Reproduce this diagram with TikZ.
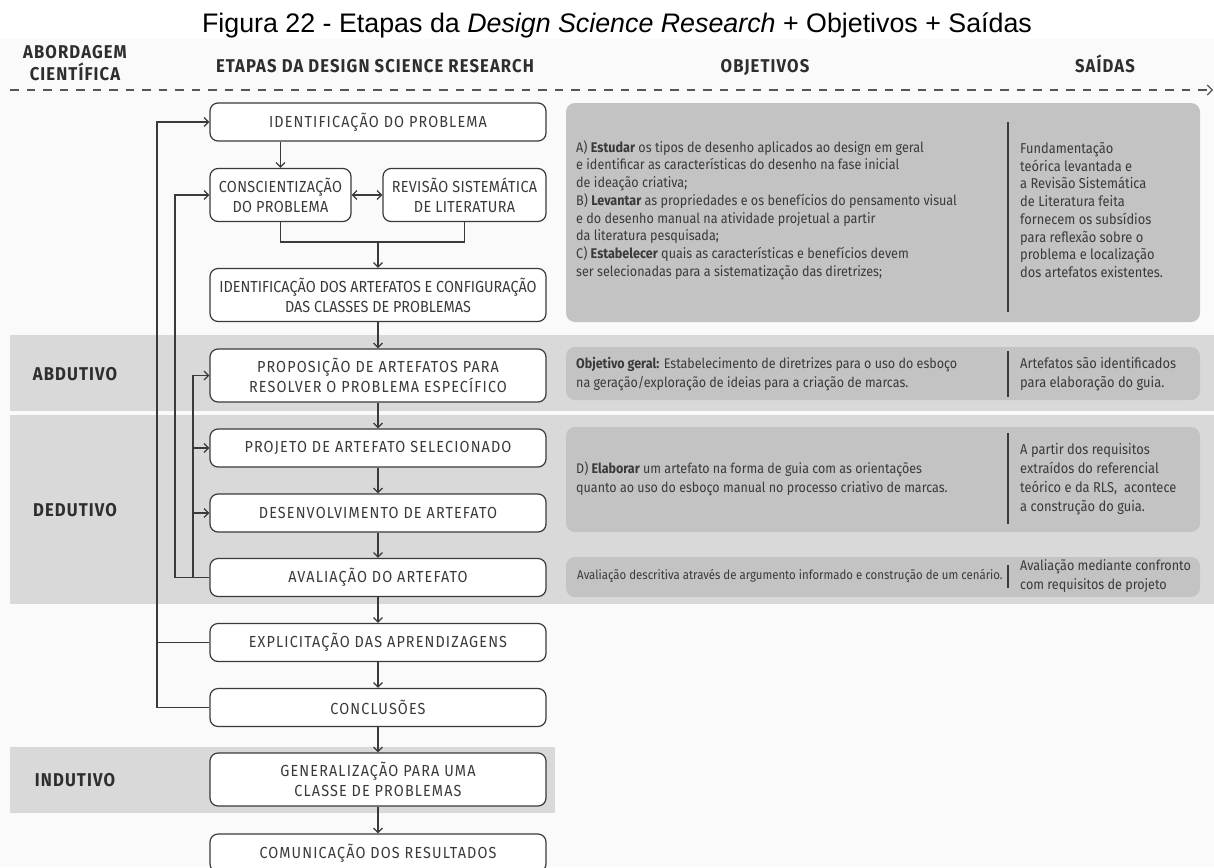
\documentclass[tikz,border=0pt]{standalone}
\usepackage{fontspec}
\setmainfont{Fira Sans}[FakeStretch=0.9]
\newfontfamily\spacedfont{Fira Sans}[FakeStretch=0.9, LetterSpace=7]
\newfontfamily\lightspaced{Fira Sans}[FakeStretch=0.9, LetterSpace=2]
\newfontfamily\headfont{Fira Sans}[FakeStretch=0.9, LetterSpace=6]
\newfontfamily\titlefont{Liberation Sans}
\usetikzlibrary{arrows.meta,calc}
\definecolor{ink}{HTML}{3A3A3A}
\definecolor{headink}{HTML}{2E2E2E}
\definecolor{band}{HTML}{D9D9D9}
\definecolor{panel}{HTML}{C3C3C3}
\definecolor{paper}{HTML}{FAFAFA}
\definecolor{axis}{HTML}{555555}
\begin{document}
\begin{tikzpicture}[x=1pt,y=-1pt,
  flow/.style={draw=ink, line width=1.2pt, rounded corners=8pt, fill=white,
    text=ink, align=center, inner sep=0pt, minimum width=336pt,
    font=\spacedfont\fontsize{16}{20}\selectfont},
  single/.style={flow, minimum height=38pt},
  double/.style={flow, minimum height=53pt},
  panelbox/.style={fill=panel, rounded corners=9pt, minimum width=634pt, inner sep=0pt},
  bandbox/.style={fill=band, inner sep=0pt, anchor=north west},
  head/.style={text=headink, font=\headfont\fontsize{18.5}{20}\bfseries\selectfont, inner sep=0pt, anchor=base},
  phase/.style={text=headink, font=\headfont\fontsize{18.5}{20}\bfseries\selectfont, inner sep=0pt},
  objtext/.style={text=ink, align=left, anchor=west, inner sep=0pt},
  conn/.style={draw=ink, line width=1.2pt},
  arr/.style={conn, -{Straight Barb[length=4.5pt,width=9pt]}},
  divider/.style={draw=ink, line width=1.4pt},
]
\clip (0,0) rectangle (1214,867);
\useasboundingbox (0,0) rectangle (1214,867);
\fill[paper] (0,39) rectangle (1214,867);

% title
\node[anchor=base, inner sep=0pt, font=\titlefont\fontsize{26.8}{30}\selectfont] (title) at (617,33)
  {Figura 22 - Etapas da \textit{Design Science Research} + Objetivos + Saídas};

% column headings
\node[head] (hA1) at (75,59) {ABORDAGEM};
\node[head] (hA2) at (75,80) {CIENTÍFICA};
\node[head] (hB) at (375,72) {ETAPAS DA DESIGN SCIENCE RESEARCH};
\node[head] (hC) at (765,72) {OBJETIVOS};
\node[head] (hD) at (1105,72) {SAÍDAS};

% time axis
\coordinate (axisL) at (10,90);
\coordinate (axisR) at (1213,90);
\draw[draw=axis, line width=1.1pt, dash pattern=on 8.5pt off 8pt,
  -{Straight Barb[length=5pt,width=10pt]}] (axisL) -- (axisR);

% bands of the scientific approaches
\node[bandbox, minimum width=1204pt, minimum height=76pt] (bandAb) at (10,335) {};
\node[bandbox, minimum width=1204pt, minimum height=189pt] (bandDe) at (10,415) {};
\node[bandbox, minimum width=545pt, minimum height=66pt] (bandIn) at (10,747) {};
\node[phase] (ab) at (75,374) {ABDUTIVO};
\node[phase] (de) at (75,510) {DEDUTIVO};
\node[phase] (in) at (75,780) {INDUTIVO};

% panels with objectives and outputs
\node[panelbox, minimum height=219pt] (P1) at (883,212.5) {};
\node[panelbox, minimum height=53pt] (P2) at (883,373.5) {};
\node[panelbox, minimum height=105pt] (P3) at (883,479.5) {};
\node[panelbox, minimum height=40pt] (P4) at (883,577) {};
\draw[divider] (1008,122) -- (1008,312);
\draw[divider] (1008,351) -- (1008,397);
\draw[divider] (1008,433) -- (1008,524);
\draw[divider] (1008,565) -- (1008,588);

\node[objtext, font=\fontsize{14}{17.7}\selectfont] (t1) at (576,210) {%
A) \textbf{Estudar} os tipos de desenho aplicados ao design em geral\\
e identificar as características do desenho na fase inicial\\
de ideação criativa;\\
B) \textbf{Levantar} as propriedades e os benefícios do pensamento visual\\
e do desenho manual na atividade projetual a partir\\
da literatura pesquisada;\\
C) \textbf{Estabelecer} quais as características e benefícios devem\\
ser selecionadas para a sistematização das diretrizes;};
\node[objtext, font=\fontsize{14.3}{17.7}\selectfont] (s1) at (1020,210) {%
Fundamentação\\
teórica levantada e\\
a Revisão Sistemática\\
de Literatura feita\\
fornecem os subsídios\\
para reflexão sobre o\\
problema e localização\\
dos artefatos existentes.};

\node[objtext, font=\fontsize{13.9}{19}\selectfont] (t2) at (576,374.5) {%
\textbf{Objetivo geral:} Estabelecimento de diretrizes para o uso do esboço\\
na geração/exploração de ideias para a criação de marcas.};
\node[objtext, font=\fontsize{14.3}{19}\selectfont] (s2) at (1020,374.5) {%
Artefatos são identificados\\
para elaboração do guia.};

\node[objtext, font=\fontsize{13.9}{19}\selectfont] (t3) at (576,478.5) {%
D) \textbf{Elaborar} um artefato na forma de guia com as orientações\\
quanto ao uso do esboço manual no processo criativo de marcas.};
\node[objtext, font=\fontsize{14.3}{19}\selectfont] (s3) at (1020,479) {%
A partir dos requisitos\\
extraídos do referencial\\
teórico e da RLS,~ acontece\\
a construção do guia.};

\node[objtext, font=\fontsize{12.7}{19}\selectfont] (t4) at (577,576) {%
Avaliação descritiva através de argumento informado e construção de um cenário.};
\node[objtext, font=\fontsize{14}{19}\selectfont] (s4) at (1020,576.5) {%
Avaliação mediante confronto\\
com requisitos de projeto};

% steps of the design science research
\node[single] (B1) at (378,122) {IDENTIFICAÇÃO DO PROBLEMA};
\node[double, minimum width=141pt, font=\lightspaced\fontsize{16}{20}\selectfont] (B2a) at (280.5,195) {CONSCIENTIZAÇÃO\\DO PROBLEMA};
\node[double, minimum width=163pt, font=\lightspaced\fontsize{16}{20}\selectfont] (B2b) at (464.5,195) {REVISÃO SISTEMÁTICA\\DE LITERATURA};
\node[double, font=\normalfont\fontsize{16}{20}\selectfont] (B3) at (378,295) {IDENTIFICAÇÃO DOS ARTEFATOS E CONFIGURAÇÃO\\DAS CLASSES DE PROBLEMAS};
\node[double] (B4) at (378,375.5) {PROPOSIÇÃO DE ARTEFATOS PARA\\RESOLVER O PROBLEMA ESPECÍFICO};
\node[single] (B5) at (378,448) {PROJETO DE ARTEFATO SELECIONADO};
\node[single] (B6) at (378,513) {DESENVOLVIMENTO DE ARTEFATO};
\node[single] (B7) at (378,577.5) {AVALIAÇÃO DO ARTEFATO};
\node[single] (B8) at (378,642.5) {EXPLICITAÇÃO DAS APRENDIZAGENS};
\node[single] (B9) at (378,707.5) {CONCLUSÕES};
\node[double] (B10) at (378,779.5) {GENERALIZAÇÃO PARA UMA\\CLASSE DE PROBLEMAS};
\node[single] (B11) at (378,853) {COMUNICAÇÃO DOS RESULTADOS};

% main sequence
\draw[arr] (B1.south -| B2a.north) -- (B2a.north);
\draw[conn, {Straight Barb[length=4.5pt,width=9pt]}-{Straight Barb[length=4.5pt,width=9pt]}] (B2a.east) -- (B2b.west);
\coordinate (merge) at (378,242);
\draw[conn] (B2a.south) |- (merge) -| (B2b.south);
\draw[arr] (merge) -- (B3.north);
\draw[arr] (B3.south) -- (B4.north);
\draw[arr] (B4.south) -- (B5.north);
\draw[arr] (B5.south) -- (B6.north);
\draw[arr] (B6.south) -- (B7.north);
\draw[arr] (B7.south) -- (B8.north);
\draw[arr] (B8.south) -- (B9.north);
\draw[arr] (B9.south) -- (B10.north);
\draw[arr] (B10.south) -- (B11.north);

% feedback loops
\coordinate (xo) at (157,0);
\coordinate (xm) at (175,0);
\coordinate (xi) at (193,0);
\draw[arr] (B9.west) -- (B9.west -| xo) |- (B1.west);
\draw[conn] (B8.west) -- (B8.west -| xo);
\draw[arr] (B7.west) -- (B7.west -| xm) |- (B2a.west);
\draw[arr] (B7.west -| xi) |- (B4.west);
\draw[arr] (B5.west -| xi) -- (B5.west);
\draw[arr] (B6.west -| xi) -- (B6.west);
\end{tikzpicture}
\end{document}
